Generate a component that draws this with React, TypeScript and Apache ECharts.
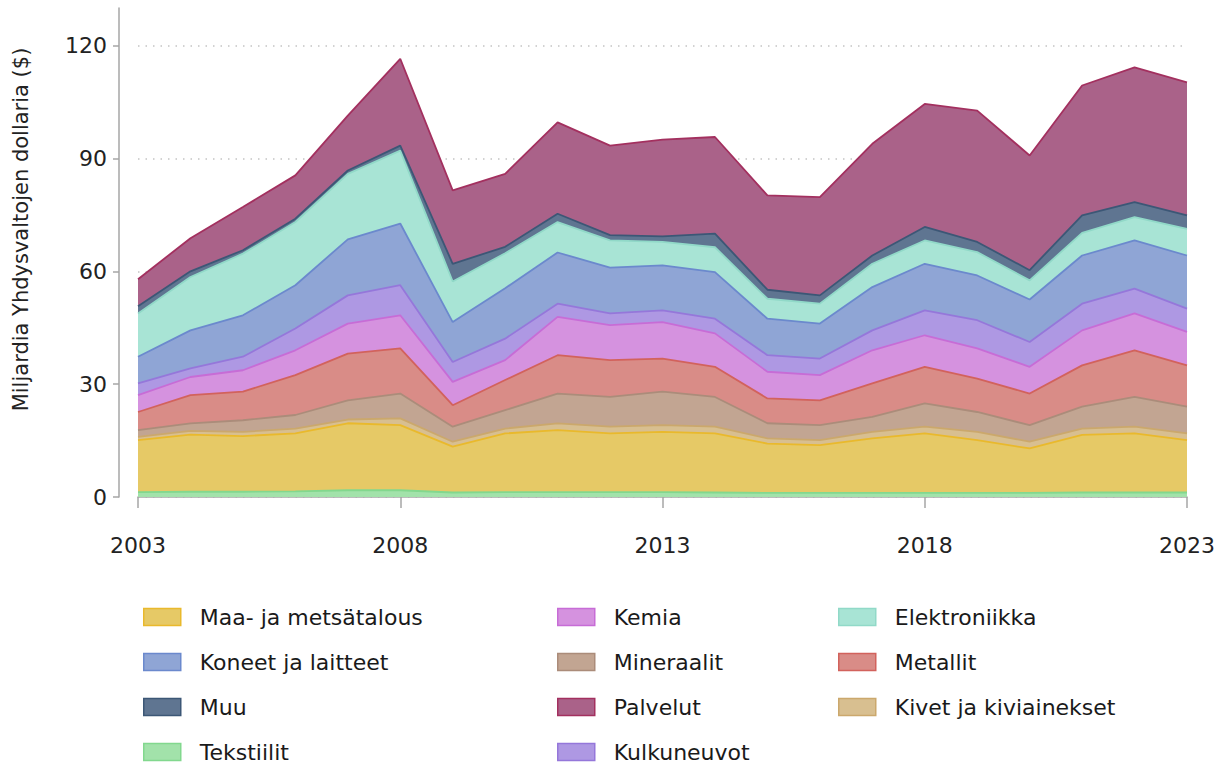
import React, { useEffect, useRef } from "react";
import * as echarts from "echarts";

const years = ["2003","2004","2005","2006","2007","2008","2009","2010","2011","2012","2013","2014","2015","2016","2017","2018","2019","2020","2021","2022","2023"];
const yTicks = [0, 30, 60, 90, 120];

const tekstiilit = [1.3,1.4,1.4,1.5,1.8,1.8,1.2,1.3,1.3,1.3,1.3,1.2,1.1,1.1,1.1,1.1,1.1,1.1,1.2,1.2,1.2];
const maa = [13.8,15.2,14.8,15.4,17.8,17.3,12.2,15.6,16.5,15.6,16.0,15.7,13.1,12.7,14.5,15.8,14.0,11.8,15.3,15.7,13.9];
const kivet = [0.9,1.0,1.1,1.3,1.0,1.8,1.3,1.3,1.8,1.8,1.8,1.8,1.4,1.3,1.7,1.8,2.2,1.8,1.7,1.8,1.8];
const mineraalit = [1.8,2.0,3.1,3.6,5.1,6.6,4.0,4.9,7.9,7.9,8.9,7.9,4.0,4.0,4.0,6.2,5.3,4.4,5.8,7.9,7.1];
const metallit = [4.8,7.5,7.6,10.6,12.4,12.0,5.7,8.0,10.2,9.8,8.8,8.0,6.6,6.6,8.9,9.7,8.9,8.4,11.0,12.4,11.0];
const kemia = [4.5,4.8,5.7,6.6,8.0,8.8,6.2,5.3,10.2,9.3,9.7,8.9,7.1,6.7,8.8,8.4,8.0,7.1,9.3,9.8,8.9];
const kulkuneuvot = [3.1,2.3,3.6,5.8,7.5,8.0,5.3,5.7,3.5,3.1,3.1,3.9,4.4,4.4,5.3,6.6,7.5,6.6,7.1,6.6,6.2];
const koneet = [7.1,10.1,11.0,11.5,14.9,16.4,10.6,13.4,13.6,12.2,12.0,12.4,9.7,9.3,11.5,12.4,11.9,11.3,12.8,12.8,14.1];
const elektroniikka = [11.5,14.2,16.4,16.8,17.4,19.4,10.8,9.3,8.1,7.2,6.2,6.6,5.3,5.3,6.2,6.2,6.2,5.1,6.0,6.2,7.1];
const muu = [1.9,1.5,0.9,0.9,0.9,1.3,4.7,1.7,2.2,1.4,1.5,3.6,2.4,2.2,2.2,3.6,2.7,2.7,4.7,4.0,3.6];
const palvelut = [7.2,8.8,11.5,11.5,14.6,23.1,19.5,19.4,24.3,23.8,25.7,25.7,25.1,26.1,29.7,32.7,34.9,30.5,34.5,35.8,35.3];

// bottom to top stacking order
const seriesDefs = [
  { name: "Tekstiilit", data: tekstiilit, fill: "#a2e2aa", line: "#82d88e" },
  { name: "Maa- ja metsätalous", data: maa, fill: "#e6c966", line: "#e9b92c" },
  { name: "Kivet ja kiviainekset", data: kivet, fill: "#d8bf90", line: "#cba86c" },
  { name: "Mineraalit", data: mineraalit, fill: "#c2a592", line: "#ab8c7a" },
  { name: "Metallit", data: metallit, fill: "#d98c87", line: "#d2625c" },
  { name: "Kemia", data: kemia, fill: "#d592df", line: "#c76cd6" },
  { name: "Kulkuneuvot", data: kulkuneuvot, fill: "#ae98e3", line: "#9577da" },
  { name: "Koneet ja laitteet", data: koneet, fill: "#8fa5d5", line: "#6b89cd" },
  { name: "Elektroniikka", data: elektroniikka, fill: "#a8e4d5", line: "#91d9c8" },
  { name: "Muu", data: muu, fill: "#5f7591", line: "#3c5776" },
  { name: "Palvelut", data: palvelut, fill: "#aa6289", line: "#a3305f" },
];

const legendCol1 = ["Maa- ja metsätalous", "Koneet ja laitteet", "Muu", "Tekstiilit"];
const legendCol2 = ["Kemia", "Mineraalit", "Palvelut", "Kulkuneuvot"];
const legendCol3 = ["Elektroniikka", "Metallit", "Kivet ja kiviainekset"];

const FONT = "'DejaVu Sans', Inter, sans-serif";

export default function App() {
  const ref = useRef<HTMLDivElement>(null);
  useEffect(() => {
    document.body.style.margin = "0";
    if (!ref.current) return;
    const chart = echarts.init(ref.current, null, { renderer: "svg" });
    const byName: Record<string, any> = {};
    seriesDefs.forEach((s) => (byName[s.name] = s));
    const legendItems = (names: string[]) =>
      names.map((n) => ({
        name: n,
        icon: "rect",
        itemStyle: { color: byName[n].fill, borderColor: byName[n].line, borderWidth: 1.5, opacity: 1 },
      }));
    const legendCommon = {
      orient: "vertical",
      top: 606,
      padding: 0,
      height: 161,
      itemWidth: 37,
      itemHeight: 17,
      itemGap: 23,
      selectedMode: false,
      textStyle: { fontFamily: FONT, fontSize: 22, color: "#1a1a1a", lineHeight: 22, padding: [0, 0, 0, 14] },
    };
    chart.setOption({
      animation: false,
      textStyle: { fontFamily: FONT },
      grid: { left: 138, right: 30, top: 8, bottom: 270, outerBoundsMode: "none" },
      legend: [
        { ...legendCommon, left: 143, data: legendItems(legendCol1) },
        { ...legendCommon, left: 557, data: legendItems(legendCol2) },
        { ...legendCommon, left: 838, data: legendItems(legendCol3) },
      ],
      xAxis: {
        type: "category",
        data: years,
        boundaryGap: false,
        offset: 20,
        axisLine: { show: true, lineStyle: { color: "#a6a6a6", width: 1.5 } },
        axisTick: { show: true, interval: 4, length: 11, lineStyle: { color: "#a6a6a6", width: 1.5 } },
        axisLabel: { interval: 4, margin: 17, fontSize: 22, color: "#222", fontFamily: FONT },
        splitLine: { show: false },
      },
      yAxis: {
        type: "value",
        min: 0,
        max: 130,
        offset: 19,
        name: "Miljardia Yhdysvaltojen dollaria ($)",
        nameLocation: "middle",
        nameRotate: 90,
        nameGap: 88,
        nameTextStyle: { fontFamily: FONT, fontSize: 21, color: "#222", padding: [0, 0, 0, 46] },
        axisLine: { show: true, lineStyle: { color: "#a6a6a6", width: 1.5 } },
        axisTick: { show: true, length: 6, customValues: yTicks, lineStyle: { color: "#a6a6a6", width: 1.5 } },
        axisLabel: { customValues: yTicks, margin: 12, fontSize: 22, color: "#222", fontFamily: FONT },
        splitLine: { show: true, lineStyle: { color: "#c4c4c4", type: [1.5, 6], width: 1.5 } },
      },
      series: seriesDefs.map((s) => ({
        name: s.name,
        type: "line",
        stack: "total",
        data: s.data,
        showSymbol: false,
        symbol: "none",
        itemStyle: { color: s.fill },
        lineStyle: { color: s.line, width: 1.8 },
        areaStyle: { color: s.fill, opacity: 1 },
        emphasis: { disabled: true },
      })),
    });
    return () => chart.dispose();
  }, []);
  return <div ref={ref} style={{ width: 1217, height: 767 }} />;
}
